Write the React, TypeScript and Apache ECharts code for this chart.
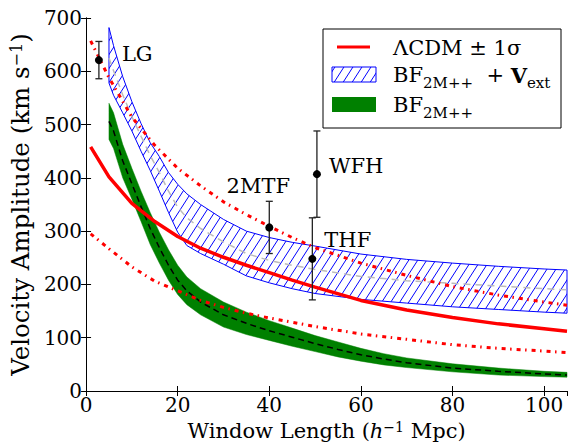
import React, { useEffect, useRef } from "react";
import * as echarts from "echarts";

const FONT = '"DejaVu Serif", "Liberation Serif", serif';

// ΛCDM expected bulk flow with its ±1σ envelope
const lcdmR = [1, 5, 10, 15, 20, 25, 30, 35, 40, 45, 50, 60, 70, 80, 90, 100, 105];
const lcdmMean = [458, 402, 352, 318, 290, 268, 251, 236, 222, 208, 195, 170, 152, 138, 126, 117, 112];
const lcdmUpper = [657, 588, 514, 461, 418, 385, 355, 331, 309, 288, 269, 240, 217, 196, 180, 167, 161];
const lcdmLower = [295, 267, 233, 206, 188, 170, 157, 146, 137, 129, 121, 107, 97, 87, 80, 75, 72];

// BF 2M++ + V_ext band
const extR = [5, 6, 8, 10, 12, 14, 16, 18, 20, 22, 25, 30, 35, 40, 45, 50, 60, 70, 80, 90, 100, 105];
const extUpper = [682, 648, 590, 543, 502, 466, 440, 410, 388, 370, 350, 322, 300, 288, 279, 272, 257, 247, 240, 234, 229, 227];
const extLower = [578, 555, 522, 488, 450, 414, 375, 335, 298, 273, 258, 238, 216, 203, 192, 183, 172, 165, 158, 153, 148, 146];
const extMean = [625, 601, 556, 515, 478, 442, 410, 375, 345, 325, 305, 280, 258, 245, 236, 228, 215, 207, 202, 197, 192, 190];

// BF 2M++ band
const bfR = [5, 6, 8, 10, 12, 14, 16, 18, 20, 22, 25, 30, 35, 40, 45, 50, 55, 60, 65, 70, 80, 90, 100, 105];
const bfUpper = [540, 522, 463, 418, 375, 335, 298, 265, 236, 214, 192, 167, 148, 132, 118, 104, 92, 80, 70, 62, 51, 43, 37, 35];
const bfLower = [472, 455, 400, 360, 318, 275, 240, 208, 181, 162, 143, 120, 106, 95, 84, 74, 64, 56, 49, 44, 36, 30, 27, 26];
const bfMean = [506, 488, 432, 389, 346, 305, 269, 236, 208, 188, 167, 143, 127, 113, 101, 89, 78, 68, 60, 53, 43, 37, 32, 30];

// Survey measurements: name, window length, amplitude, 1σ error
const obsNames = ["LG", "2MTF", "WFH", "THF"];
const obsR = [2.8, 40, 50.4, 49.4];
const obsV = [621, 307, 407, 248];
const obsErr = [35, 49, 81, 77];

// label placement around each measurement: dx, dy, align
const obsLabelPlace: Record<string, [number, number, string]> = {
  LG: [23, -6, "left"],
  "2MTF": [-11, -41, "center"],
  WFH: [12, -8, "left"],
  THF: [12, -19, "left"],
};

const xTicks = { min: 0, max: 105, interval: 20 };
const yTicks = { min: 0, max: 700, interval: 100 };

const zip = (xs: number[], ys: number[]) => xs.map((x, i) => [x, ys[i]]);

function hatchTile() {
  const w = 9;
  const h = 14;
  const c = document.createElement("canvas");
  c.width = w;
  c.height = h;
  const g = c.getContext("2d")!;
  g.strokeStyle = "#0000ff";
  g.lineWidth = 1;
  for (const dx of [-w, 0, w]) {
    g.beginPath();
    g.moveTo(dx, h);
    g.lineTo(dx + w, 0);
    g.stroke();
  }
  return { image: c, repeat: "repeat", imageWidth: w, imageHeight: h } as any;
}

function bandSeries(xs: number[], upper: number[], lower: number[], style: any, z: number) {
  return {
    type: "custom",
    coordinateSystem: "cartesian2d",
    clip: true,
    silent: true,
    z,
    data: [[xs[0], upper[0]]],
    renderItem: (_params: any, api: any) => {
      const pts: number[][] = [];
      for (let i = 0; i < xs.length; i++) pts.push(api.coord([xs[i], upper[i]]));
      for (let i = xs.length - 1; i >= 0; i--) pts.push(api.coord([xs[i], lower[i]]));
      return { type: "polygon", shape: { points: pts }, style };
    },
  };
}

function lineSeries(xs: number[], ys: number[], lineStyle: any, z: number) {
  return {
    type: "line",
    data: zip(xs, ys),
    showSymbol: false,
    symbol: "none",
    silent: true,
    z,
    lineStyle,
  };
}

export default function App() {
  const ref = useRef<HTMLDivElement>(null);

  useEffect(() => {
    document.body.style.margin = "0";
    if (!ref.current) return;
    const chart = echarts.init(ref.current, null, { renderer: "svg" });
    const hatch = hatchTile();
    const legendHatch = hatchTile();

    const axisCommon = {
      axisLine: { show: true, lineStyle: { color: "#000", width: 1 } },
      axisTick: { show: true, inside: true, length: 5, lineStyle: { color: "#000", width: 1 } },
      splitLine: { show: false },
      z: 5,
    };
    const labelStyle = { color: "#000", fontFamily: FONT, fontSize: 20 };

    const option: any = {
      animation: false,
      backgroundColor: "#fff",
      grid: { left: 84, right: 1, top: 18, bottom: 54 },
      xAxis: [
        {
          type: "value",
          ...xTicks,
          ...axisCommon,
          axisLabel: { ...labelStyle, margin: 4 },
          name: "Window Length ({it|h}{sup|−1} Mpc)",
          nameLocation: "middle",
          nameGap: 29,
          nameTextStyle: {
            ...labelStyle,
            fontSize: 21,
            rich: {
              it: { fontFamily: FONT, fontSize: 21, fontStyle: "italic", color: "#000" },
              sup: { fontFamily: FONT, fontSize: 14, color: "#000", verticalAlign: "top", lineHeight: 14 },
            },
          },
        },
        {
          type: "value",
          position: "top",
          ...xTicks,
          ...axisCommon,
          axisLabel: { show: false },
        },
      ],
      yAxis: [
        {
          type: "value",
          ...yTicks,
          ...axisCommon,
          axisLabel: { ...labelStyle, margin: 4 },
          name: "Velocity Amplitude (km s{sup|−1})",
          nameLocation: "middle",
          nameGap: 48,
          nameTextStyle: {
            ...labelStyle,
            fontSize: 24.5,
            rich: {
              sup: { fontFamily: FONT, fontSize: 16, color: "#000", verticalAlign: "top", lineHeight: 16 },
            },
          },
        },
        {
          type: "value",
          position: "right",
          ...yTicks,
          ...axisCommon,
          axisLabel: { show: false },
        },
      ],
      series: [
        bandSeries(bfR, bfUpper, bfLower, { fill: "#008000", stroke: "#008000", lineWidth: 0.5 }, 2),
        lineSeries(bfR, bfMean, { color: "#000", width: 1.5, type: [6, 4] }, 3),
        bandSeries(extR, extUpper, extLower, { fill: hatch, stroke: "#0000ff", lineWidth: 1 }, 4),
        lineSeries(extR, extMean, { color: "#bbbbbb", width: 1.5, type: [7, 5] }, 5),
        lineSeries(lcdmR, lcdmLower, { color: "#ff0000", width: 3, type: [4, 4.5, 1.5, 5] }, 6),
        lineSeries(lcdmR, lcdmUpper, { color: "#ff0000", width: 3, type: [4, 4.5, 1.5, 5] }, 6),
        lineSeries(lcdmR, lcdmMean, { color: "#ff0000", width: 3.5 }, 7),
        {
          type: "custom",
          coordinateSystem: "cartesian2d",
          silent: true,
          clip: false,
          z: 8,
          data: obsR.map((r, i) => [r, obsV[i], obsErr[i]]),
          renderItem: (params: any, api: any) => {
            const x = api.value(0);
            const y = api.value(1);
            const e = api.value(2);
            const c = api.coord([x, y]);
            const top = api.coord([x, y + e]);
            const bot = api.coord([x, y - e]);
            const name = obsNames[params.dataIndex];
            const place = obsLabelPlace[name];
            const stroke = { stroke: "#222", lineWidth: 1.3 };
            return {
              type: "group",
              children: [
                { type: "line", shape: { x1: c[0], y1: top[1], x2: c[0], y2: bot[1] }, style: stroke },
                { type: "line", shape: { x1: c[0] - 3.5, y1: top[1], x2: c[0] + 3.5, y2: top[1] }, style: stroke },
                { type: "line", shape: { x1: c[0] - 3.5, y1: bot[1], x2: c[0] + 3.5, y2: bot[1] }, style: stroke },
                { type: "circle", shape: { cx: c[0], cy: c[1], r: 4 }, style: { fill: "#000" } },
                {
                  type: "text",
                  x: c[0] + place[0],
                  y: c[1] + place[1],
                  style: {
                    text: name,
                    fill: "#000",
                    fontFamily: FONT,
                    fontSize: 21,
                    align: place[2],
                    verticalAlign: "middle",
                  },
                },
              ],
            };
          },
        },
      ],
      graphic: [
        {
          type: "group",
          z: 20,
          children: [
            {
              type: "rect",
              shape: { x: 323, y: 29, width: 238, height: 99 },
              style: { fill: "#fff", stroke: "#000", lineWidth: 1 },
            },
            {
              type: "line",
              shape: { x1: 337, y1: 47, x2: 370, y2: 47 },
              style: { stroke: "#ff0000", lineWidth: 3 },
            },
            {
              type: "rect",
              shape: { x: 332, y: 67, width: 44, height: 15 },
              style: { fill: legendHatch, stroke: "#0000ff", lineWidth: 1 },
            },
            {
              type: "rect",
              shape: { x: 332, y: 97, width: 44, height: 15 },
              style: { fill: "#008000" },
            },
            {
              type: "text",
              x: 393,
              y: 47.5,
              style: {
                text: "ΛCDM ± 1σ",
                fill: "#000",
                fontFamily: FONT,
                fontSize: 21,
                verticalAlign: "middle",
              },
            },
            {
              type: "text",
              x: 393,
              y: 75,
              style: {
                text: "{m|BF}{s|2M++}{m|  + }{b|V}{s|ext}",
                verticalAlign: "middle",
                rich: {
                  m: { fontFamily: FONT, fontSize: 21, color: "#000", lineHeight: 30 },
                  b: { fontFamily: FONT, fontSize: 21, fontWeight: "bold", color: "#000", lineHeight: 30 },
                  s: { fontFamily: FONT, fontSize: 15, color: "#000", lineHeight: 15, verticalAlign: "bottom" },
                },
              },
            },
            {
              type: "text",
              x: 393,
              y: 105,
              style: {
                text: "{m|BF}{s|2M++}",
                verticalAlign: "middle",
                rich: {
                  m: { fontFamily: FONT, fontSize: 21, color: "#000", lineHeight: 30 },
                  s: { fontFamily: FONT, fontSize: 15, color: "#000", lineHeight: 15, verticalAlign: "bottom" },
                },
              },
            },
          ],
        },
      ],
    };

    chart.setOption(option);
    return () => chart.dispose();
  }, []);

  return <div ref={ref} style={{ width: 568, height: 446 }} />;
}
